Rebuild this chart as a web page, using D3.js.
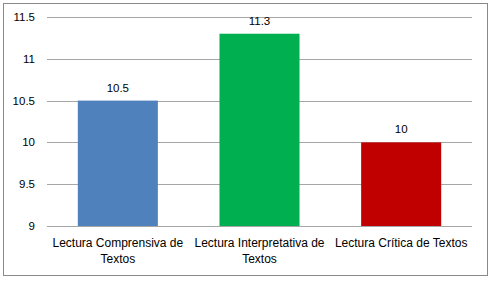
<!DOCTYPE html>
<html>
<head>
<meta charset="utf-8">
<script src="https://cdn.jsdelivr.net/npm/d3@7"></script>
<style>
  body { margin: 0; background: #fff; }
  text { font-family: "Liberation Sans", Arial, sans-serif; fill: #000; }
</style>
</head>
<body>
<div id="chart"></div>
<script>
// data
const categories = ["Lectura Comprensiva de Textos", "Lectura Interpretativa de Textos", "Lectura Crítica de Textos"];
const labelLines = [["Lectura Comprensiva de", "Textos"], ["Lectura Interpretativa de", "Textos"], ["Lectura Crítica de Textos"]];
const values = [10.5, 11.3, 10];
const barColors = ["#4f81bd", "#00b050", "#c00000"];
const yTicks = [9, 9.5, 10, 10.5, 11, 11.5];

const width = 494;
const height = 282;
const margin = { top: 17, right: 22, bottom: 56, left: 47 };

const svg = d3.select("#chart")
              .append("svg")
              .attr("width", width)
              .attr("height", height);

// outer frame
svg.append("rect")
   .attr("x", 3.5).attr("y", 3.5)
   .attr("width", 484).attr("height", 272)
   .attr("fill", "#fff")
   .attr("stroke", "#898989");

const x = d3.scaleBand()
            .domain(categories)
            .range([margin.left, width - margin.right])
            .paddingInner(0.435)
            .paddingOuter(0.2175);

const y = d3.scaleLinear()
            .domain([9, 11.5])
            .range([height - margin.bottom, margin.top]);

// gridlines
svg.append("g")
   .selectAll("line")
   .data(yTicks)
   .enter()
   .append("line")
   .attr("x1", margin.left)
   .attr("x2", width - margin.right)
   .attr("y1", d => Math.round(y(d)) + 0.5)
   .attr("y2", d => Math.round(y(d)) + 0.5)
   .attr("stroke", "#a6a6a6");

// y tick labels
svg.append("g")
   .selectAll("text")
   .data(yTicks)
   .enter()
   .append("text")
   .attr("x", 35)
   .attr("y", d => y(d))
   .attr("dy", "0.35em")
   .attr("font-size", 11.5)
   .style("text-anchor", "end")
   .text(d => d);

// bars
svg.selectAll(".bar")
   .data(values)
   .enter()
   .append("rect")
   .attr("class", "bar")
   .attr("x", (d, i) => x(categories[i]))
   .attr("y", d => y(d))
   .attr("width", x.bandwidth())
   .attr("height", d => y(9) - y(d))
   .attr("fill", (d, i) => barColors[i]);

// value labels
svg.selectAll(".val")
   .data(values)
   .enter()
   .append("text")
   .attr("class", "val")
   .attr("x", (d, i) => x(categories[i]) + x.bandwidth() / 2)
   .attr("y", d => y(d) - 9)
   .attr("font-size", 11.5)
   .style("text-anchor", "middle")
   .text(d => d);

// category labels
const cat = svg.selectAll(".cat")
   .data(categories)
   .enter()
   .append("text")
   .attr("class", "cat")
   .attr("x", d => x(d) + x.bandwidth() / 2)
   .attr("y", y(9) + 21)
   .attr("font-size", 12)
   .style("text-anchor", "middle");

cat.selectAll("tspan")
   .data((d, i) => labelLines[i])
   .enter()
   .append("tspan")
   .attr("x", function() { return this.parentNode.getAttribute("x"); })
   .attr("dy", (d, i) => i === 0 ? 0 : 16)
   .text(d => d);
</script>
</body>
</html>
